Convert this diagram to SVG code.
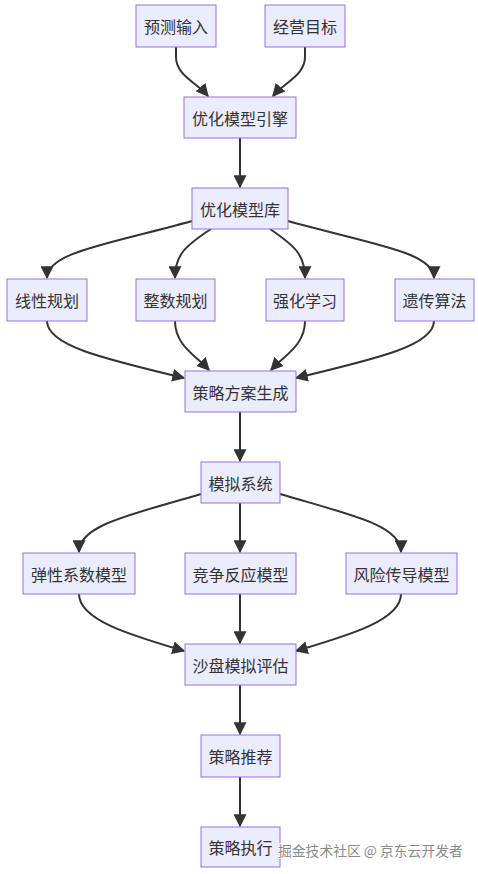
<svg xmlns="http://www.w3.org/2000/svg" width="478" height="874" viewBox="0 0 478 874">
<style>
.node rect{fill:#ECECFF;stroke:#9370DB;stroke-width:1}
.node text{font-family:"Noto Sans CJK SC","Noto Sans",sans-serif;font-size:16px;fill:#333;text-anchor:middle;dominant-baseline:central}
.edges path{fill:none;stroke:#333;stroke-width:2;marker-end:url(#arrow)}
.wm{font-family:"Noto Sans CJK SC",sans-serif;font-size:13.8px;fill:#8a8a8a;stroke:#fff;stroke-width:2;paint-order:stroke}
</style>
<defs>
<marker id="arrow" viewBox="0 0 10 10" refX="9" refY="5" markerUnits="userSpaceOnUse" markerWidth="13" markerHeight="13" orient="auto">
<path d="M0,0 L10,5 L0,10 z" fill="#333"/>
</marker>
</defs>
<rect width="478" height="874" fill="#fff"/>
<g class="edges">
<path d="M176,47 L176,57 C176,75 196,82 208,96"/>
<path d="M305,47 L305,57 C305,75 285,82 273,96"/>
<path d="M240,138 L240,187"/>
<path d="M192,221 C110,244 47,252 47,278"/>
<path d="M211,229 C185,246 175,255 175,278"/>
<path d="M270,229 C295,246 305,255 305,278"/>
<path d="M288,221 C370,244 434,252 434,278"/>
<path d="M47,321 C47,345 100,358 184,378"/>
<path d="M175,321 C175,345 195,355 209,370"/>
<path d="M305,321 C305,345 285,355 271,370"/>
<path d="M434,321 C434,345 380,358 296,378"/>
<path d="M240,412 L240,461"/>
<path d="M201,494 C130,515 79,525 79,552"/>
<path d="M240,503 L240,552"/>
<path d="M280,494 C351,515 401,525 401,552"/>
<path d="M79,594 C79,620 130,635 184,651"/>
<path d="M240,594 L240,643"/>
<path d="M401,594 C401,620 350,635 296,651"/>
<path d="M240,685 L240,734"/>
<path d="M240,777 L240,826"/>
</g>
<g id="n1" class="node"><rect x="136" y="5" width="80" height="42"/><text x="176" y="26">预测输入</text></g>
<g id="n2" class="node"><rect x="265" y="5" width="80" height="42"/><text x="305" y="26">经营目标</text></g>
<g id="n3" class="node"><rect x="184" y="97" width="112" height="41"/><text x="240" y="117.5">优化模型引擎</text></g>
<g id="n4" class="node"><rect x="192" y="188" width="96" height="41"/><text x="240" y="208.5">优化模型库</text></g>
<g id="n5" class="node"><rect x="7" y="279" width="80" height="42"/><text x="47" y="300">线性规划</text></g>
<g id="n6" class="node"><rect x="136" y="279" width="79" height="42"/><text x="175.5" y="300">整数规划</text></g>
<g id="n7" class="node"><rect x="266" y="279" width="78" height="42"/><text x="305" y="300">强化学习</text></g>
<g id="n8" class="node"><rect x="395" y="279" width="79" height="42"/><text x="434.5" y="300">遗传算法</text></g>
<g id="n9" class="node"><rect x="185" y="371" width="111" height="41"/><text x="240.5" y="391.5">策略方案生成</text></g>
<g id="n10" class="node"><rect x="201" y="462" width="79" height="41"/><text x="240.5" y="482.5">模拟系统</text></g>
<g id="n11" class="node"><rect x="23" y="553" width="112" height="41"/><text x="79" y="573.5">弹性系数模型</text></g>
<g id="n12" class="node"><rect x="185" y="553" width="111" height="41"/><text x="240.5" y="573.5">竞争反应模型</text></g>
<g id="n13" class="node"><rect x="346" y="553" width="111" height="41"/><text x="401.5" y="573.5">风险传导模型</text></g>
<g id="n14" class="node"><rect x="185" y="644" width="111" height="41"/><text x="240.5" y="664.5">沙盘模拟评估</text></g>
<g id="n15" class="node"><rect x="201" y="735" width="79" height="42"/><text x="240.5" y="756">策略推荐</text></g>
<g id="n16" class="node"><rect x="201" y="827" width="79" height="40"/><text x="240.5" y="847">策略执行</text></g>
<text class="wm" x="278" y="856">掘金技术社区 @ 京东云开发者</text>
</svg>
